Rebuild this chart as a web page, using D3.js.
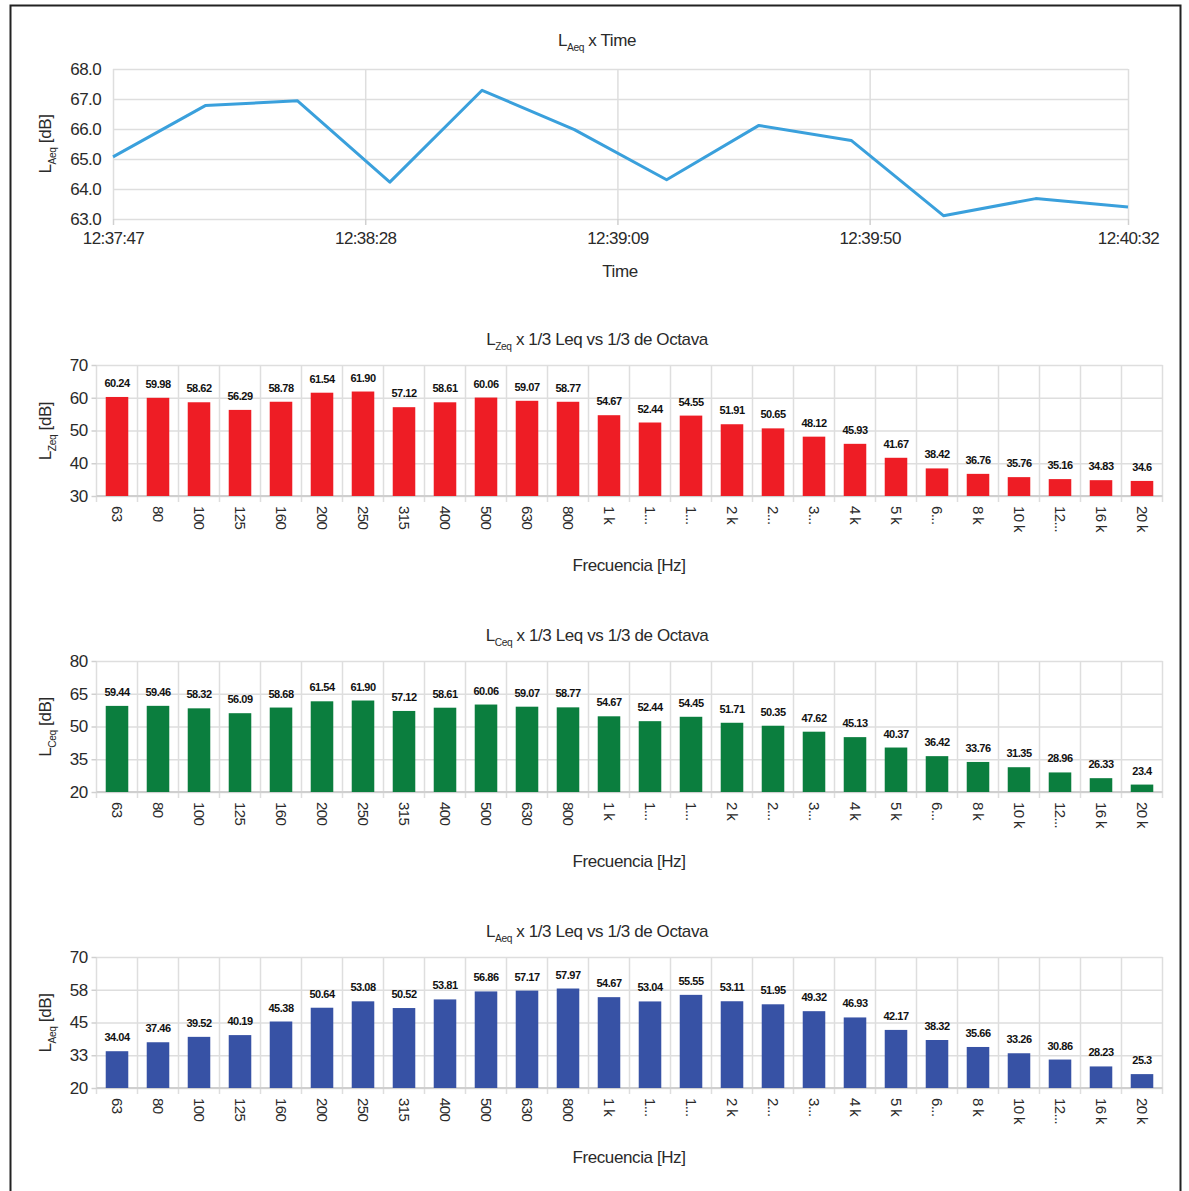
<!DOCTYPE html>
<html>
<head>
<meta charset="utf-8">
<title>LAeq / LZeq / LCeq</title>
<script src="https://d3js.org/d3.v7.min.js"></script>
<style>
body { margin: 0; background: #fff; }
text { font-family: "Liberation Sans", Arial, sans-serif; fill: #2a2a2a; }
.grid line { stroke: #dedede; stroke-width: 1.5px; }
.grid path { display: none; }
.ax path { display: none; }
.ax line { stroke: #d0d0d0; stroke-width: 1.5px; }
.ax text { font-size: 17px; letter-spacing: -0.6px; fill: #2a2a2a; }
.ttl { font-size: 17px; letter-spacing: -0.4px; }
.vlab { font-size: 11px; font-weight: bold; letter-spacing: -0.5px; fill: #111; }
</style>
</head>
<body>
<div id="chart"></div>
<script>
// ---- data ----
var timeLabels = ["12:37:47","12:38:02","12:38:17","12:38:32","12:38:47","12:39:02",
                  "12:39:17","12:39:32","12:39:47","12:40:02","12:40:17","12:40:32"];
var laeqTime = [65.07, 66.78, 66.94, 64.23, 67.29, 65.98, 64.31, 66.12, 65.62, 63.11, 63.68, 63.40];
var timeTicks = ["12:37:47","12:38:28","12:39:09","12:39:50","12:40:32"];
var timeYTicks = [63, 64, 65, 66, 67, 68];

var bandLabels = ["63","80","100","125","160","200","250","315","400","500","630","800",
                  "1 k","1...","1...","2 k","2...","3...","4 k","5 k","6...","8 k","10 k","12...","16 k","20 k"];

// values kept as printed on the chart (labels), converted with + for the scales
var lzeq = ["60.24","59.98","58.62","56.29","58.78","61.54","61.90","57.12","58.61","60.06","59.07","58.77",
            "54.67","52.44","54.55","51.91","50.65","48.12","45.93","41.67","38.42","36.76","35.76","35.16","34.83","34.6"];
var lceq = ["59.44","59.46","58.32","56.09","58.68","61.54","61.90","57.12","58.61","60.06","59.07","58.77",
            "54.67","52.44","54.45","51.71","50.35","47.62","45.13","40.37","36.42","33.76","31.35","28.96","26.33","23.4"];
var laeq = ["34.04","37.46","39.52","40.19","45.38","50.64","53.08","50.52","53.81","56.86","57.17","57.97",
            "54.67","53.04","55.55","53.11","51.95","49.32","46.93","42.17","38.32","35.66","33.26","30.86","28.23","25.3"];

var zTicks = [30, 40, 50, 60, 70];
var cTicks = [20, 35, 50, 65, 80];
var aTicks = [20, 32.5, 45, 57.5, 70];

var svg = d3.select("#chart").append("svg")
    .attr("width", 1189).attr("height", 1191);

// outer frame
svg.append("rect")
    .attr("x", 10.5).attr("y", 5.5).attr("width", 1170).attr("height", 1200)
    .attr("fill", "none").attr("stroke", "#222").attr("stroke-width", 2);

// "L" with a subscript, then the rest of the text
function subLabel(t, sub, rest, size) {
  t.append("tspan").text("L");
  t.append("tspan").attr("font-size", (size * 0.6) + "px").attr("dy", size * 0.3).text(sub);
  t.append("tspan").attr("dy", -size * 0.3).text(rest);
}

// ---- line chart: LAeq x Time ----
var parseT = d3.timeParse("%H:%M:%S");
var lx = d3.scaleTime()
    .domain([parseT(timeLabels[0]), parseT(timeLabels[timeLabels.length - 1])])
    .range([113, 1128]);
var ly = d3.scaleLinear().domain([63, 68]).range([219, 69]);

svg.append("g").attr("class", "grid")
  .attr("transform", "translate(113,0)")
  .call(d3.axisLeft(ly).tickValues(timeYTicks).tickSize(-1015).tickFormat(""));
svg.append("g").attr("class", "grid")
  .attr("transform", "translate(0,219)")
  .call(d3.axisBottom(lx).tickValues(timeTicks.map(parseT)).tickSize(-150).tickFormat(""));

svg.append("g").attr("class", "ax")
  .attr("transform", "translate(113,0)")
  .call(d3.axisLeft(ly).tickValues(timeYTicks).tickSize(0).tickPadding(12).tickFormat(d3.format(".1f")));
svg.append("g").attr("class", "ax")
  .attr("transform", "translate(0,219)")
  .call(d3.axisBottom(lx).tickValues(timeTicks.map(parseT)).tickSize(6).tickPadding(7)
        .tickFormat(d3.timeFormat("%H:%M:%S")));

svg.append("path")
  .datum(laeqTime)
  .attr("fill", "none")
  .attr("stroke", "#3aa0dc")
  .attr("stroke-width", 3)
  .attr("stroke-linejoin", "round")
  .attr("d", d3.line()
      .x(function(d, i) { return lx(parseT(timeLabels[i])); })
      .y(function(d) { return ly(d); }));

var t1 = svg.append("text").attr("class", "ttl").attr("x", 597).attr("y", 46).attr("text-anchor", "middle");
subLabel(t1, "Aeq", " x Time", 17);
var yt1 = svg.append("text").attr("class", "ttl").attr("text-anchor", "middle")
  .attr("transform", "translate(51,144) rotate(-90)");
subLabel(yt1, "Aeq", " [dB]", 17);
svg.append("text").attr("class", "ttl").attr("x", 620).attr("y", 277)
  .attr("text-anchor", "middle").text("Time");

// ---- bar charts ----
function barChart(top, values, domain, ticks, color, sub, fmt) {
  var x0 = 96.5, x1 = 1162.5, y0 = top, y1 = top + 131;
  var x = d3.scaleBand().domain(d3.range(values.length)).range([x0, x1])
      .paddingInner(0.45).paddingOuter(0.225);
  var y = d3.scaleLinear().domain(domain).range([y1, y0]);
  var g = svg.append("g");

  g.append("g").attr("class", "grid")
    .attr("transform", "translate(" + x0 + ",0)")
    .call(d3.axisLeft(y).tickValues(ticks).tickSize(-(x1 - x0)).tickFormat(""));

  var bounds = d3.range(values.length + 1).map(function(i) { return x0 + i * x.step(); });
  g.selectAll(".vg").data(bounds).enter().append("line")
    .attr("x1", function(d) { return d; }).attr("x2", function(d) { return d; })
    .attr("y1", y0).attr("y2", y1 + 6)
    .attr("stroke", "#dedede").attr("stroke-width", 1.5);

  g.append("g").attr("class", "ax")
    .attr("transform", "translate(" + x0 + ",0)")
    .call(d3.axisLeft(y).tickValues(ticks).tickSize(5).tickPadding(4).tickFormat(fmt));

  g.append("line").attr("x1", x0).attr("x2", x1).attr("y1", y1).attr("y2", y1)
    .attr("stroke", "#cfcfcf").attr("stroke-width", 2);

  g.selectAll(".bar").data(values).enter().append("rect")
    .attr("x", function(d, i) { return x(i); })
    .attr("width", x.bandwidth())
    .attr("y", function(d) { return y(+d); })
    .attr("height", function(d) { return y1 - y(+d); })
    .attr("fill", color);

  g.selectAll(".vlab").data(values).enter().append("text")
    .attr("class", "vlab")
    .attr("x", function(d, i) { return x(i) + x.bandwidth() / 2; })
    .attr("y", function(d) { return y(+d) - 10; })
    .attr("text-anchor", "middle")
    .text(function(d) { return d; });

  var xa = g.append("g").attr("class", "ax")
    .attr("transform", "translate(0," + y1 + ")")
    .call(d3.axisBottom(x).tickSize(0).tickFormat(function(i) { return bandLabels[i]; }));
  xa.selectAll("text")
    .style("font-size", "15px")
    .attr("text-anchor", "start")
    .attr("transform", "rotate(90)")
    .attr("y", 0).attr("x", 10).attr("dy", "0.35em");

  var tt = g.append("text").attr("class", "ttl").attr("x", 597).attr("y", top - 20)
    .attr("text-anchor", "middle");
  subLabel(tt, sub, " x 1/3 Leq vs 1/3 de Octava", 17);
  var yt = g.append("text").attr("class", "ttl").attr("text-anchor", "middle")
    .attr("transform", "translate(51," + (top + 66) + ") rotate(-90)");
  subLabel(yt, sub, " [dB]", 17);
  g.append("text").attr("class", "ttl").attr("x", 629).attr("y", top + 206)
    .attr("text-anchor", "middle").text("Frecuencia [Hz]");
}

barChart(365, lzeq, [30, 70], zTicks, "#ee1d25", "Zeq", d3.format("d"));
barChart(661, lceq, [20, 80], cTicks, "#0b7e3e", "Ceq", d3.format("d"));
barChart(957, laeq, [20, 70], aTicks, "#3752a5", "Aeq", function(d) { return Math.round(d); });
</script>
</body>
</html>
